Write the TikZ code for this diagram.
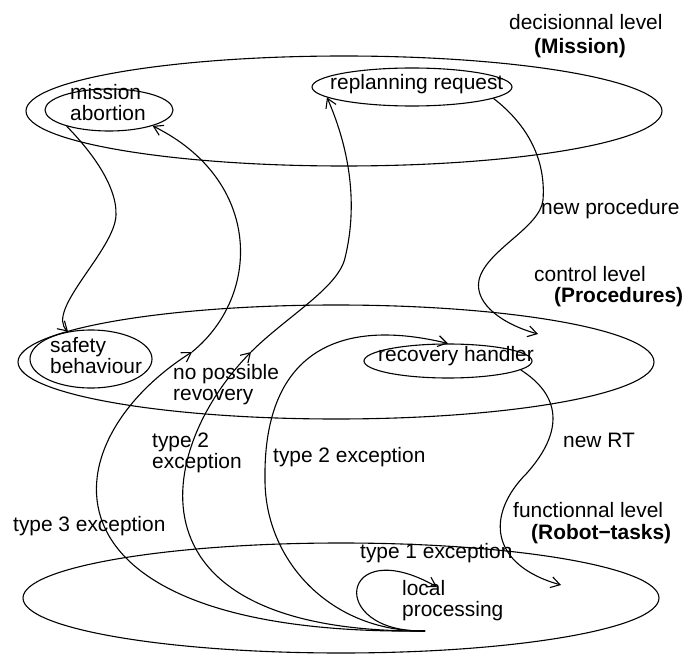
\documentclass[tikz,border=0pt]{standalone}
\usepackage{fontspec}
\setmainfont{Liberation Sans}
\usetikzlibrary{shapes.geometric, arrows.meta}
\definecolor{ink}{RGB}{0,0,0}
\tikzset{
  % Level ring (one per layer)
  levelring/.style={
    ellipse, draw=ink, line width=1.1pt, inner sep=0pt,
    minimum width=636pt, minimum height=110pt
  },
  % Handler ellipse inside a layer
  handler/.style={
    ellipse, draw=ink, line width=1.1pt, inner sep=0pt
  },
  % Plain text label
  lbl/.style={
    font=\fontsize{20.9}{21}\selectfont, text=ink,
    inner sep=0pt, anchor=base west, align=left
  },
  % Bold layer name
  layername/.style={
    lbl, font=\fontsize{20.9}{21}\selectfont\bfseries
  },
  % Arrow style
  arr/.style={
    -{Straight Barb[length=9pt,width=11pt]}, line width=1.1pt, draw=ink
  },
}
\begin{document}
\begin{tikzpicture}[x=1pt, y=-1pt]
  \useasboundingbox (0,0) rectangle (683,655);

  % layers
  \node[levelring] (mission) at (344,111) {};
  \node[levelring, minimum height=114pt] (procs) at (336,362) {};
  \node[levelring] (tasks) at (341,598) {};

  % handlers
  \node[handler, minimum width=128pt, minimum height=42pt] (abort) at (109,110) {};
  \node[handler, minimum width=200pt, minimum height=38pt] (replan) at (412,87) {};
  \node[handler, minimum width=122pt, minimum height=58pt] (safety) at (91,359) {};
  \node[handler, minimum width=168pt, minimum height=34pt] (recov) at (448,361) {};

  % labels (two-line labels sit on their last line)
  \node[lbl] (declbl) at (509,30) {decisionnal level};
  \node[layername] (misslbl) at (534,54) {(Mission)};
  \node[lbl] (newproclbl) at (541,215) {new procedure};
  \node[lbl] (ctllbl) at (534,282) {control level};
  \node[layername] (proclbl) at (554,302) {(Procedures)};
  \node[lbl] (newrtlbl) at (563,447) {new RT};
  \node[lbl] (funclbl) at (513,517) {functionnal level};
  \node[layername] (robotlbl) at (531,539) {(Robot−tasks)};
  \node[lbl] (t3lbl) at (13,531) {type 3 exception};
  \node[lbl] (t2albl) at (152,468) {type 2\\exception};
  \node[lbl] (t2blbl) at (273,462) {type 2 exception};
  \node[lbl] (noreclbl) at (173,400) {no possible\\revovery};
  \node[lbl] (t1lbl) at (360,558) {type 1 exception};
  \node[lbl] (locallbl) at (402,616) {local\\processing};
  \node[lbl] (abortlbl) at (70,121) {mission\\abortion};
  \node[lbl] (safetylbl) at (50,373) {safety\\behaviour};
  \node[lbl] (replanlbl) at (330,90) {replanning request};
  \node[lbl] (recovlbl) at (378,361) {recovery handler};

  % free ends
  \coordinate (src) at (425,631);
  \coordinate (esc1) at (192,352);
  \coordinate (esc2) at (251,352);
  \coordinate (loctip) at (437,587);
  \coordinate (rttip) at (561,585);
  \coordinate (proctip) at (538,334);

  % type 3 exception, up to mission abortion
  \draw[arr] (src) .. controls (30,636) and (45,445) .. (esc1);
  \draw[arr] (esc1) .. controls (262,295) and (262,180) .. (abort.-20);
  % type 2 exception, up to replanning
  \draw[arr] (src) .. controls (120,633) and (155,450) .. (esc2);
  \draw[arr] (esc2) .. controls (286,317) and (338,288) .. (345,258)
    .. controls (358,205) and (350,150) .. (replan.187);
  % type 2 exception, to recovery handler
  \draw[arr] (src) .. controls (330,632) and (265,560) .. (265,480)
    .. controls (263,360) and (330,315) .. (recov.north);
  % type 1 exception, local loop
  \draw[arr] (src) .. controls (325,633) and (340,532) .. (loctip);
  % abortion -> safety
  \draw[arr] (abort.201) .. controls (90,150) and (117,185) .. (116,215)
    .. controls (115,250) and (45,310) .. (safety.130);
  % replanning -> new procedure
  \draw[arr] (replan.-8) .. controls (528,125) and (546,160) .. (543,200)
    .. controls (540,228) and (486,250) .. (479,280)
    .. controls (474,305) and (505,325) .. (proctip);
  % recovery -> new RT
  \draw[arr] (recov.-7) .. controls (560,395) and (565,430) .. (527,473)
    .. controls (485,515) and (490,565) .. (rttip);
\end{tikzpicture}
\end{document}
